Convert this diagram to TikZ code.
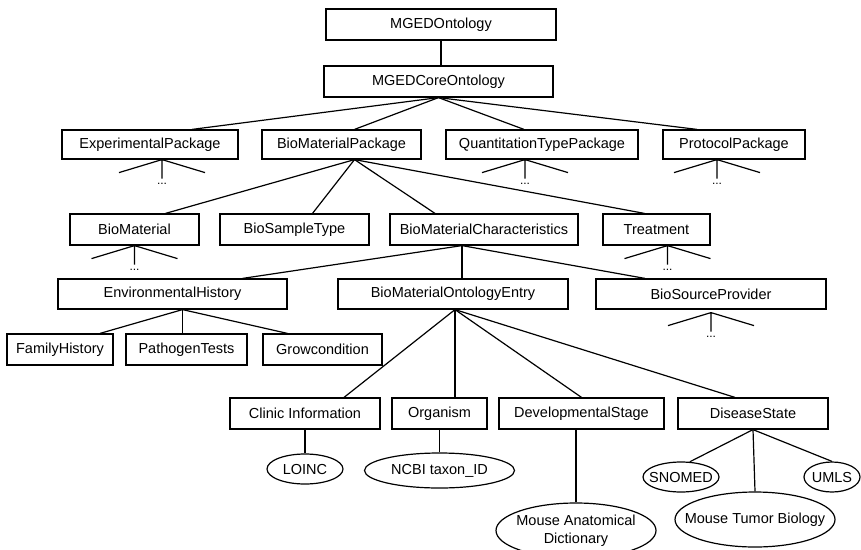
\documentclass[tikz,border=0pt]{standalone}
\usepackage{fontspec}
\setmainfont{Liberation Sans}
\usetikzlibrary{shapes.geometric}
\newcommand{\ovl}[1]{\makebox[0pt]{#1}}

\begin{document}
\begin{tikzpicture}[x=1pt, y=-1pt, line width=1.2pt,
  box/.style={draw, rectangle, inner sep=0pt, minimum height=31pt,
              font=\fontsize{14.5}{18}\selectfont},
  oval/.style={draw, ellipse, inner sep=0pt, font=\fontsize{14.5}{18}\selectfont},
  dots/.style={font=\fontsize{12}{12}\selectfont, inner sep=0pt}]
  \useasboundingbox (0,0) rectangle (861,549);
  % root and core
  \node[box, minimum width=230pt] (onto) at (441,24.5) {MGEDOntology};
  \node[box, minimum width=229pt] (core) at (438.5,81.5) {MGEDCoreOntology};
  % packages
  \node[box, minimum width=176pt, minimum height=29pt] (exppkg) at (150,144.5) {ExperimentalPackage};
  \node[box, minimum width=159pt, minimum height=29pt] (biopkg) at (341.5,144.5) {BioMaterialPackage};
  \node[box, minimum width=192pt, minimum height=29pt] (quantpkg) at (542,144.5) {QuantitationTypePackage};
  \node[box, minimum width=142pt, minimum height=29pt] (protpkg) at (734,144.5) {ProtocolPackage};
  % biomaterial package
  \node[box, minimum width=129pt] (biomat) at (134.5,229.5) {BioMaterial};
  \node[box, minimum width=149pt] (sample) at (294.5,229.5) {BioSampleType};
  \node[box, minimum width=188pt] (biochar) at (484,229.5) {BioMaterialCharacteristics};
  \node[box, minimum width=107pt] (treat) at (656.5,229.5) {Treatment};
  % characteristics
  \node[box, minimum width=229pt, minimum height=30pt] (envhist) at (172.5,294) {EnvironmentalHistory};
  \node[box, minimum width=230pt, minimum height=30pt] (ontoentry) at (453,294) {BioMaterialOntologyEntry};
  \node[box, minimum width=230pt, minimum height=30pt] (provider) at (711,294) {BioSourceProvider};
  \node[box, minimum width=106pt] (family) at (60,349.5) {FamilyHistory};
  \node[box, minimum width=121pt] (pathogen) at (186.5,349.5) {PathogenTests};
  \node[box, minimum width=119pt] (grow) at (322.5,349.5) {Growcondition};
  % ontology entries
  \node[box, minimum width=150pt] (clinic) at (305,413.5) {Clinic Information};
  \node[box, minimum width=95pt] (organism) at (439.5,413.5) {Organism};
  \node[box, minimum width=165pt] (devstage) at (581.5,413.5) {DevelopmentalStage};
  \node[box, minimum width=150pt] (disease) at (753,413.5) {DiseaseState};
  % external sources
  \node[oval, minimum width=76pt, minimum height=30pt] (loinc) at (305,469) {\ovl{LOINC}};
  \node[oval, minimum width=150pt, minimum height=35pt] (ncbi) at (439.5,470.5) {\ovl{NCBI taxon\_ID}};
  \node[oval, minimum width=160pt, minimum height=55pt] (mad) at (576,530.5)
     {\ovl{\begin{tabular}{@{}c@{}}Mouse Anatomical\\Dictionary\end{tabular}}};
  \node[oval, minimum width=76pt, minimum height=30pt] (snomed) at (681,477) {\ovl{SNOMED}};
  \node[oval, minimum width=56pt, minimum height=30pt] (umls) at (832,477) {\ovl{UMLS}};
  \node[oval, minimum width=160pt, minimum height=55pt] (mtb) at (755,519.5) {\ovl{Mouse Tumor Biology}};
  % tree edges
  \draw (onto.south) -- (onto.south |- core.north);
  \draw (core.south) -- ([xshift=42]exppkg.north);
  \draw (core.south) -- ([xshift=13]biopkg.north);
  \draw (core.south) -- ([xshift=-18]quantpkg.north);
  \draw (core.south) -- ([xshift=-37]protpkg.north);
  \draw ([xshift=13]biopkg.south) -- ([xshift=31]biomat.north);
  \draw ([xshift=13]biopkg.south) -- ([xshift=18]sample.north);
  \draw ([xshift=13]biopkg.south) -- ([xshift=-49]biochar.north);
  \draw ([xshift=13]biopkg.south) -- ([xshift=-12]treat.north);
  \draw ([xshift=-22]biochar.south) -- ([xshift=70]envhist.north);
  \draw ([xshift=-22]biochar.south) -- ([xshift=9]ontoentry.north);
  \draw ([xshift=-22]biochar.south) -- ([xshift=-66]provider.north);
  \draw ([xshift=10]envhist.south) -- ([xshift=40]family.north);
  \draw ([xshift=10]envhist.south) -- ([xshift=-4]pathogen.north);
  \draw ([xshift=10]envhist.south) -- ([xshift=-35]grow.north);
  \draw ([xshift=2]ontoentry.south) -- ([xshift=39]clinic.north);
  \draw ([xshift=2]ontoentry.south) -- ([xshift=15.5]organism.north);
  \draw ([xshift=2]ontoentry.south) -- (devstage.north);
  \draw ([xshift=2]ontoentry.south) -- ([xshift=-18]disease.north);
  \draw (clinic.south) -- (loinc.north);
  \draw (organism.south) -- (ncbi.north);
  \draw (mad.north |- devstage.south) -- (mad.north);
  \draw (disease.south) -- (snomed.60);
  \draw (disease.south) -- (umls.north);
  \draw (disease.south) -- (mtb.north);
  % collapsed subtrees
  \foreach \n/\dx/\dy in {exppkg/12/0, quantpkg/-17/0, protpkg/-17/0, biomat/0/0, treat/11/0, provider/0/3}
    \draw ([xshift=\dx, yshift=-\dy]\n.south) coordinate (\n-fan)
      -- ++(-43,13) (\n-fan) -- ++(43,13) (\n-fan) -- ++(0,19)
      (\n-fan) ++(0,24) node[dots] {...};
\end{tikzpicture}
\end{document}
